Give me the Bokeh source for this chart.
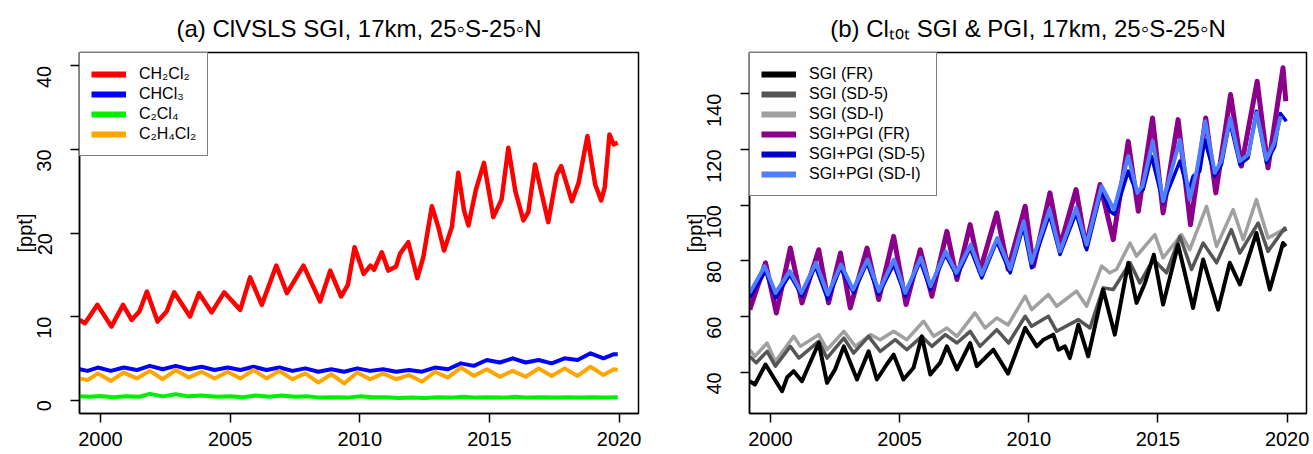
import math
from bokeh.plotting import figure
from bokeh.layouts import row
from bokeh.models import Legend, LegendItem, Range1d, FixedTicker
from bokeh.embed import file_html
from bokeh.resources import INLINE

FONT = "Liberation Sans"

# ---------------- data (year, ppt) ----------------
x_ticks = [2000, 2005, 2010, 2015, 2020]
ya_ticks = [0, 10, 20, 30, 40]
yb_ticks = [40, 60, 80, 100, 120, 140]

ch2cl2 = [(1999.19, 9.6), (1999.4, 9.2), (1999.88, 11.4), (2000.42, 8.8), (2000.87, 11.4), (2001.2, 9.6),
          (2001.5, 10.6), (2001.79, 13.0), (2002.2, 9.4), (2002.55, 10.6), (2002.84, 12.9), (2003.45, 10.0),
          (2003.8, 12.8), (2004.29, 10.5), (2004.77, 12.9), (2005.39, 10.8), (2005.77, 14.7), (2006.22, 11.4),
          (2006.78, 16.1), (2007.19, 12.8), (2007.83, 16.1), (2008.47, 11.8), (2008.86, 15.5), (2009.28, 12.4),
          (2009.54, 13.8), (2009.8, 18.3), (2010.15, 15.1), (2010.41, 16.1), (2010.55, 15.6), (2010.85, 17.7),
          (2011.1, 15.5), (2011.4, 16.0), (2011.55, 17.5), (2011.87, 18.9), (2012.22, 14.6), (2012.45, 17.1),
          (2012.78, 23.2), (2013.03, 20.7), (2013.25, 17.9), (2013.55, 20.7), (2013.8, 27.2), (2014.02, 22.7),
          (2014.19, 20.9), (2014.48, 25.2), (2014.79, 28.4), (2015.15, 21.9), (2015.47, 24.0), (2015.73, 30.2),
          (2016.0, 25.0), (2016.31, 21.5), (2016.5, 22.5), (2016.76, 28.2), (2017.27, 21.3), (2017.6, 27.0),
          (2017.77, 28.0), (2018.18, 23.8), (2018.44, 26.0), (2018.78, 31.6), (2019.08, 25.8), (2019.31, 23.9),
          (2019.45, 25.5), (2019.63, 31.8), (2019.79, 30.6), (2019.95, 30.8)]

chcl3 = [(1999.19, 3.7), (1999.5, 3.5), (1999.9, 3.9), (2000.4, 3.5), (2000.9, 3.9), (2001.4, 3.6), (2001.9, 4.1),
         (2002.4, 3.7), (2002.9, 4.1), (2003.4, 3.7), (2003.9, 4.0), (2004.4, 3.6), (2004.9, 3.9), (2005.4, 3.6),
         (2005.9, 4.0), (2006.4, 3.6), (2006.9, 3.9), (2007.4, 3.5), (2007.9, 3.8), (2008.4, 3.4), (2008.9, 3.7),
         (2009.4, 3.4), (2009.9, 3.8), (2010.4, 3.5), (2010.9, 3.7), (2011.4, 3.4), (2011.9, 3.6), (2012.4, 3.4),
         (2012.9, 3.9), (2013.4, 3.7), (2013.9, 4.4), (2014.4, 4.1), (2014.9, 4.8), (2015.4, 4.5), (2015.9, 5.0),
         (2016.4, 4.5), (2016.9, 4.8), (2017.4, 4.4), (2017.9, 5.0), (2018.4, 4.8), (2018.9, 5.6), (2019.4, 5.0),
         (2019.8, 5.5), (2019.95, 5.5)]

c2cl4 = [(1999.19, 0.45), (1999.6, 0.4), (2000.0, 0.5), (2000.5, 0.35), (2001.0, 0.45), (2001.5, 0.4),
         (2001.9, 0.75), (2002.4, 0.45), (2002.9, 0.7), (2003.4, 0.45), (2003.9, 0.55), (2004.5, 0.4),
         (2005.0, 0.45), (2005.5, 0.35), (2006.0, 0.55), (2006.5, 0.4), (2007.0, 0.55), (2007.5, 0.4),
         (2008.0, 0.45), (2008.5, 0.3), (2009.0, 0.35), (2009.5, 0.3), (2010.0, 0.45), (2010.5, 0.35),
         (2011.0, 0.35), (2011.5, 0.25), (2012.0, 0.3), (2012.5, 0.25), (2013.0, 0.35), (2013.5, 0.3),
         (2014.0, 0.4), (2014.5, 0.3), (2015.0, 0.35), (2015.5, 0.3), (2016.0, 0.4), (2016.5, 0.3),
         (2017.0, 0.35), (2017.5, 0.3), (2018.0, 0.35), (2018.5, 0.3), (2019.0, 0.35), (2019.5, 0.3),
         (2019.95, 0.35)]

c2h4cl2 = [(1999.19, 2.6), (1999.5, 2.4), (1999.9, 3.2), (2000.4, 2.3), (2000.9, 3.3), (2001.4, 2.6),
           (2001.9, 3.5), (2002.4, 2.5), (2002.9, 3.6), (2003.4, 2.7), (2003.9, 3.4), (2004.4, 2.6),
           (2004.9, 3.4), (2005.4, 2.6), (2005.9, 3.6), (2006.4, 2.6), (2006.9, 3.5), (2007.4, 2.5),
           (2007.9, 3.2), (2008.4, 2.1), (2008.9, 3.1), (2009.4, 2.0), (2009.9, 3.3), (2010.4, 2.5),
           (2010.9, 3.2), (2011.4, 2.5), (2011.9, 3.0), (2012.4, 2.2), (2012.9, 3.4), (2013.4, 2.7),
           (2013.9, 3.9), (2014.4, 2.9), (2014.9, 3.7), (2015.4, 2.8), (2015.9, 3.5), (2016.4, 2.8),
           (2016.9, 3.8), (2017.4, 2.9), (2017.9, 3.8), (2018.4, 2.9), (2018.9, 4.0), (2019.4, 3.0),
           (2019.8, 3.7), (2019.95, 3.6)]

sgi_fr = [(1999.2, 36.8), (1999.4, 35.6), (1999.81, 42.8), (2000.45, 33.2), (2000.65, 38.2), (2000.9, 40.4),
          (2001.22, 36.8), (2001.87, 50.5), (2002.19, 36.2), (2002.5, 41.0), (2002.84, 49.3), (2003.35, 37.4),
          (2003.8, 47.5), (2004.12, 37.4), (2004.5, 42.8), (2004.77, 46.3), (2005.15, 37.4), (2005.54, 41.6),
          (2005.86, 52.9), (2006.19, 39.2), (2006.57, 43.4), (2006.83, 49.3), (2007.22, 41.0), (2007.73, 50.5),
          (2007.99, 42.2), (2008.37, 45.7), (2008.63, 48.1), (2009.2, 39.5), (2009.86, 55.9), (2010.31, 49.3),
          (2010.57, 51.7), (2010.95, 53.5), (2011.15, 48.1), (2011.4, 49.3), (2011.59, 45.1), (2011.92, 57.1),
          (2012.3, 45.7), (2012.88, 69.7), (2013.33, 53.5), (2013.85, 79.3), (2014.17, 64.9), (2014.5, 72.1),
          (2014.84, 82.2), (2015.2, 64.3), (2015.78, 85.8), (2016.36, 63.1), (2016.75, 80.5), (2017.33, 62.5),
          (2017.78, 79.3), (2018.17, 71.5), (2018.81, 90.0), (2019.33, 69.7), (2019.84, 86.4), (2019.95, 85.2)]

sgi_sd5 = [(1999.2, 45.7), (1999.45, 43.4), (1999.87, 47.5), (2000.19, 42.2), (2000.77, 49.3), (2001.1, 45.1),
           (2001.87, 51.1), (2002.19, 45.1), (2002.84, 52.3), (2003.22, 46.9), (2003.8, 52.9), (2004.25, 47.5),
           (2004.83, 51.7), (2005.28, 48.1), (2005.86, 52.9), (2006.25, 49.3), (2006.77, 53.5), (2007.22, 50.5),
           (2007.73, 54.7), (2008.11, 49.3), (2008.76, 55.3), (2009.22, 50.5), (2009.86, 60.1), (2010.11, 56.5),
           (2010.76, 60.1), (2011.08, 54.7), (2011.92, 58.9), (2012.37, 55.9), (2012.88, 70.3), (2013.27, 69.7),
           (2013.92, 79.3), (2014.3, 72.1), (2014.82, 80.5), (2015.33, 75.7), (2015.85, 88.8), (2016.3, 76.9),
           (2016.75, 86.4), (2017.27, 79.3), (2017.84, 91.2), (2018.17, 82.8), (2018.88, 93.6), (2019.26, 83.4),
           (2019.91, 91.8), (2019.95, 90.6)]

sgi_sdi = [(1999.2, 48.1), (1999.4, 45.7), (1999.87, 50.5), (2000.19, 43.9), (2000.9, 52.9), (2001.16, 49.3),
           (2001.87, 53.5), (2002.19, 48.1), (2002.84, 54.7), (2003.29, 49.3), (2003.87, 53.5), (2004.25, 51.7),
           (2004.77, 54.7), (2005.28, 51.7), (2005.93, 58.3), (2006.32, 52.9), (2006.83, 55.9), (2007.22, 52.9),
           (2007.92, 61.3), (2008.31, 55.9), (2008.76, 59.5), (2009.2, 57.0), (2009.86, 67.3), (2010.11, 62.5),
           (2010.76, 67.9), (2011.08, 63.7), (2011.85, 69.1), (2012.24, 63.7), (2012.82, 78.1), (2013.14, 75.7),
           (2013.4, 77.0), (2013.92, 86.4), (2014.17, 81.7), (2014.88, 89.4), (2015.2, 81.1), (2015.91, 89.4),
           (2016.23, 84.0), (2016.88, 99.6), (2017.27, 85.2), (2017.91, 98.4), (2018.3, 87.6), (2018.81, 102.0),
           (2019.26, 88.2), (2019.84, 91.2), (2019.95, 90.6)]

sgipgi_fr = [(1999.2, 62.5), (1999.81, 79.3), (2000.23, 61.3), (2000.77, 84.6), (2001.22, 64.9), (2001.87, 84.0),
             (2002.25, 64.9), (2002.71, 82.8), (2003.09, 63.1), (2003.74, 84.6), (2004.19, 66.1), (2004.77, 88.8),
             (2005.25, 64.3), (2005.8, 84.0), (2006.25, 67.3), (2006.83, 90.6), (2007.22, 73.3), (2007.73, 93.0),
             (2008.11, 76.3), (2008.76, 97.2), (2009.2, 77.0), (2009.86, 99.6), (2010.18, 78.1), (2010.82, 104.4),
             (2011.21, 85.2), (2011.83, 105.6), (2012.21, 85.2), (2012.76, 107.4), (2013.27, 87.6), (2013.85, 122.9),
             (2014.24, 97.8), (2014.79, 131.3), (2015.2, 97.2), (2015.78, 130.7), (2016.26, 93.0), (2016.85, 131.3),
             (2017.24, 104.4), (2017.81, 139.7), (2018.23, 114.0), (2018.84, 144.5), (2019.26, 113.4),
             (2019.84, 149.3), (2019.95, 137.3)]

sgipgi_sd5 = [(1999.2, 66.7), (1999.81, 76.3), (2000.2, 66.7), (2000.75, 75.1), (2001.22, 67.3), (2001.74, 78.1),
              (2002.22, 66.1), (2002.71, 77.5), (2003.22, 68.5), (2003.74, 79.3), (2004.19, 67.9), (2004.77, 78.7),
              (2005.22, 67.3), (2005.8, 79.9), (2006.19, 69.7), (2006.77, 82.3), (2007.22, 74.5), (2007.73, 84.6),
              (2008.18, 73.9), (2008.76, 87.0), (2009.28, 75.7), (2009.79, 92.4), (2010.11, 77.5), (2010.8, 96.6),
              (2011.21, 82.3), (2011.83, 97.2), (2012.24, 84.0), (2012.82, 105.6), (2013.14, 97.8), (2013.33, 96.6),
              (2013.85, 112.2), (2014.17, 104.4), (2014.43, 105.6), (2014.75, 117.6), (2015.2, 100.8),
              (2015.85, 115.8), (2016.17, 104.4), (2016.36, 110.4), (2016.62, 112.2), (2016.81, 123.5),
              (2017.2, 110.4), (2017.46, 114.6), (2017.78, 130.1), (2018.17, 114.6), (2018.49, 117.0),
              (2018.81, 133.7), (2019.2, 115.2), (2019.52, 121.1), (2019.74, 132.9), (2019.97, 130.1)]

sgipgi_sdi = [(1999.2, 68.5), (1999.78, 78.1), (2000.2, 68.5), (2000.75, 76.3), (2001.2, 68.5), (2001.76, 79.3),
              (2002.22, 67.9), (2002.73, 78.7), (2003.2, 69.7), (2003.76, 80.5), (2004.2, 69.1), (2004.78, 80.5),
              (2005.22, 68.5), (2005.82, 81.1), (2006.2, 70.9), (2006.78, 83.4), (2007.2, 75.7), (2007.75, 85.8),
              (2008.18, 75.1), (2008.78, 88.2), (2009.28, 77.0), (2009.8, 94.2), (2010.11, 79.3), (2010.8, 98.4),
              (2011.21, 83.4), (2011.83, 99.0), (2012.24, 85.8), (2012.82, 106.8), (2013.3, 98.4), (2013.85, 117.6),
              (2014.2, 104.4), (2014.4, 106.8), (2014.8, 122.9), (2015.2, 101.4), (2015.85, 123.5), (2016.23, 102.0),
              (2016.5, 112.2), (2016.83, 130.1), (2017.2, 111.6), (2017.45, 115.8), (2017.8, 131.3),
              (2018.17, 115.8), (2018.5, 118.2), (2018.82, 133.1), (2019.2, 116.4), (2019.5, 122.3),
              (2019.75, 131.9)]

panel_a = [("CH₂Cl₂", ch2cl2, "#FF0000", 4.5), ("CHCl₃", chcl3, "#0000FF", 4),
           ("C₂Cl₄", c2cl4, "#00EE00", 4), ("C₂H₄Cl₂", c2h4cl2, "#FFA500", 4)]
panel_b = [("SGI (FR)", sgi_fr, "#000000", 4), ("SGI (SD-5)", sgi_sd5, "#555555", 3.5),
           ("SGI (SD-I)", sgi_sdi, "#A0A0A0", 3.5), ("SGI+PGI (FR)", sgipgi_fr, "#8B008B", 5),
           ("SGI+PGI (SD-5)", sgipgi_sd5, "#0000CD", 3.5), ("SGI+PGI (SD-I)", sgipgi_sdi, "#4F7FFF", 4)]
draw_order_b = [2, 1, 0, 3, 4, 5]


def make_panel(title, series, order, yr, yticks, width, left, right):
    p = figure(width=width, height=454, output_backend="svg", toolbar_location=None,
               x_range=Range1d(1999.19, 2020.75), y_range=Range1d(*yr),
               min_border_left=left, min_border_right=right, min_border_top=52, min_border_bottom=41)
    p.title.text = title
    p.title.align = "center"
    p.title.text_font = FONT
    p.title.text_font_size = "24px"
    p.title.text_font_style = "normal"
    p.title.text_color = "black"
    p.title.standoff = 22
    p.grid.visible = False
    p.outline_line_color = "black"
    p.outline_line_width = 1.5
    p.background_fill_color = "white"
    for ax, ticks in ((p.xaxis[0], x_ticks), (p.yaxis[0], yticks)):
        ax.ticker = FixedTicker(ticks=ticks)
        ax.minor_tick_line_color = None
        ax.major_tick_in = 0
        ax.major_tick_out = 9
        ax.major_tick_line_width = 1.5
        ax.axis_line_width = 1.5
        ax.major_label_text_font = FONT
        ax.major_label_text_font_size = "20px"
        ax.major_label_text_color = "black"
    p.xaxis.major_label_standoff = 9
    p.yaxis.major_label_orientation = math.pi / 2
    p.yaxis.major_label_standoff = 26
    p.yaxis.axis_label = "[ppt]"
    p.yaxis.axis_label_text_font = FONT
    p.yaxis.axis_label_text_font_size = "20px"
    p.yaxis.axis_label_text_font_style = "normal"
    p.yaxis.axis_label_text_color = "black"
    p.yaxis.axis_label_standoff = -8

    for i in order:
        name, data, color, lw = series[i]
        p.line([d[0] for d in data], [d[1] for d in data], line_color=color, line_width=lw,
               line_join="round")

    items = []
    for name, data, color, lw in series:
        # off-screen stand-in so the legend can show a thicker line sample
        r = p.line(x=[1900, 1901], y=[yr[0] - 1000, yr[0] - 1000], line_color=color, line_width=6)
        items.append(LegendItem(label=name, renderers=[r]))
    leg = Legend(items=items, location="top_left", margin=0, padding=11, spacing=0,
                 glyph_width=35, glyph_height=20, label_height=20, label_standoff=13,
                 label_text_font=FONT, label_text_font_size="16px", label_text_color="black",
                 border_line_color="black", border_line_width=1.5, background_fill_alpha=1.0)
    p.add_layout(leg)
    return p


p1 = make_panel("(a) ClVSLS SGI, 17km, 25◦S-25◦N", panel_a, [0, 1, 2, 3], (-1.6, 41.6), ya_ticks, 656, 79, 18)
p2 = make_panel("(b) Clₜₒₜ SGI & PGI, 17km, 25◦S-25◦N", panel_b, draw_order_b, (25.2, 154.8), yb_ticks, 657, 93, 7)

layout = row(p1, p2)
open("out.html", "w").write(file_html(layout, INLINE))
